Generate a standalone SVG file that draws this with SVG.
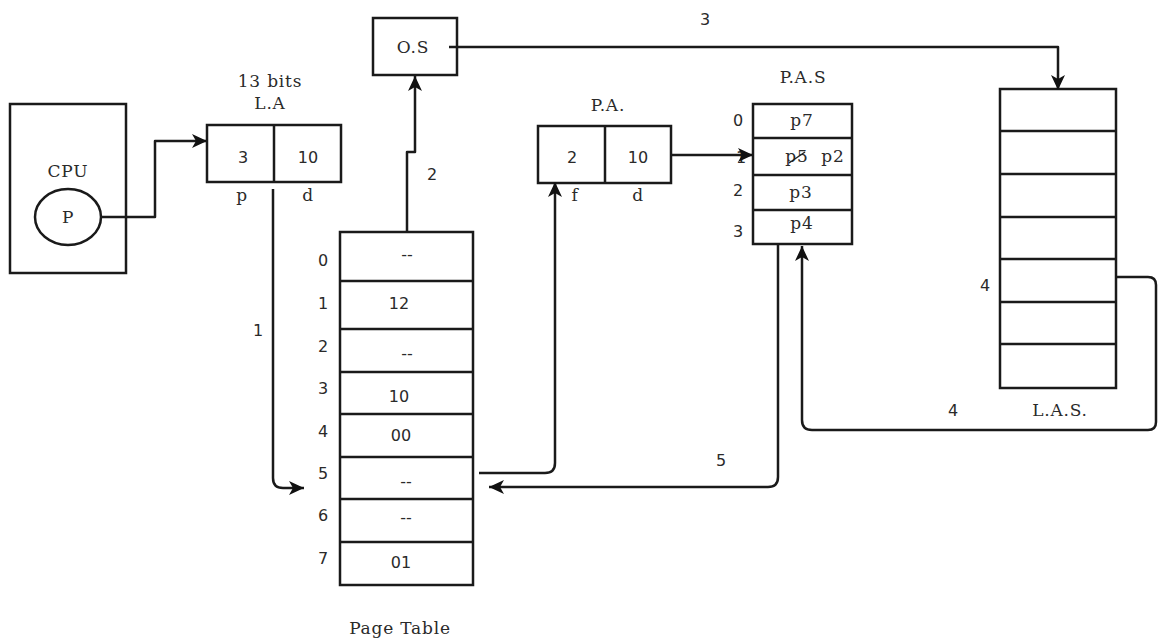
<svg xmlns="http://www.w3.org/2000/svg" width="1159" height="641" viewBox="0 0 1159 641">
<style>
.box{fill:#fff;stroke:#1a1a1a;stroke-width:2.5}
.ln{fill:none;stroke:#1a1a1a;stroke-width:2.5}
.cn{fill:none;stroke:#1a1a1a;stroke-width:2.5;stroke-linejoin:round}
.arr{marker-end:url(#ah)}
.sf{font-family:"DejaVu Serif","Liberation Serif",serif;font-size:17px;letter-spacing:0.8px;fill:#2a2a2a;text-anchor:middle}
.ss{font-family:"DejaVu Sans","Liberation Sans",sans-serif;font-size:16px;fill:#2a2a2a;text-anchor:middle}
</style>
<defs>
<marker id="ah" markerUnits="userSpaceOnUse" markerWidth="16" markerHeight="14" refX="15" refY="7" orient="auto">
<path d="M0,0 L15,7 L0,14 L4,7 z" fill="#111"/>
</marker>
</defs>
<rect width="1159" height="641" fill="#fff"/>

<g id="cpu">
<rect class="box" x="10" y="104" width="116" height="169"/>
<text class="sf" x="68" y="177">CPU</text>
<ellipse class="box" cx="68" cy="217" rx="33" ry="28"/>
<text class="sf" x="68" y="223">P</text>
</g>

<g id="la">
<text class="sf" x="270" y="87">13 bits</text>
<text class="sf" x="270" y="109">L.A</text>
<rect class="box" x="207" y="125" width="134" height="57"/>
<line class="ln" x1="274" y1="125" x2="274" y2="182"/>
<text class="ss" x="243" y="163">3</text>
<text class="ss" x="308" y="163">10</text>
<text class="sf" x="242" y="201">p</text>
<text class="sf" x="308" y="201">d</text>
</g>

<g id="os">
<rect class="box" x="373" y="18" width="84" height="57"/>
<text class="sf" x="413" y="53">O.S</text>
</g>

<g id="pagetable">
<rect class="box" x="340" y="232" width="133" height="353"/>
<line class="ln" x1="340" y1="281" x2="473" y2="281"/>
<line class="ln" x1="340" y1="329" x2="473" y2="329"/>
<line class="ln" x1="340" y1="372" x2="473" y2="372"/>
<line class="ln" x1="340" y1="414" x2="473" y2="414"/>
<line class="ln" x1="340" y1="457" x2="473" y2="457"/>
<line class="ln" x1="340" y1="499" x2="473" y2="499"/>
<line class="ln" x1="340" y1="542" x2="473" y2="542"/>
<text class="ss" x="323" y="266">0</text>
<text class="ss" x="323" y="309">1</text>
<text class="ss" x="323" y="352">2</text>
<text class="ss" x="323" y="394">3</text>
<text class="ss" x="323" y="437">4</text>
<text class="ss" x="323" y="479">5</text>
<text class="ss" x="323" y="521">6</text>
<text class="ss" x="323" y="564">7</text>
<text class="ss" x="407" y="260">--</text>
<text class="ss" x="399" y="309">12</text>
<text class="ss" x="407" y="359">--</text>
<text class="ss" x="399" y="402">10</text>
<text class="ss" x="401" y="441">00</text>
<text class="ss" x="406" y="487">--</text>
<text class="ss" x="406" y="523">--</text>
<text class="ss" x="401" y="568">01</text>
<text class="sf" x="400" y="634">Page Table</text>
</g>

<g id="pa">
<text class="sf" x="608" y="111">P.A.</text>
<rect class="box" x="538" y="126" width="133" height="57"/>
<line class="ln" x1="605" y1="126" x2="605" y2="183"/>
<text class="ss" x="572" y="163">2</text>
<text class="ss" x="638" y="163">10</text>
<text class="sf" x="575" y="201">f</text>
<text class="sf" x="638" y="201">d</text>
</g>

<g id="pas">
<text class="sf" x="803" y="83">P.A.S</text>
<rect class="box" x="753" y="104" width="99" height="140"/>
<line class="ln" x1="753" y1="138" x2="852" y2="138"/>
<line class="ln" x1="753" y1="175" x2="852" y2="175"/>
<line class="ln" x1="753" y1="210" x2="852" y2="210"/>
<text class="ss" x="738" y="126">0</text>
<text class="ss" x="741" y="163">1</text>
<text class="ss" x="738" y="196">2</text>
<text class="ss" x="738" y="237">3</text>
<text class="sf" x="802" y="126">p7</text>
<text class="sf" x="797" y="162">p5</text>
<line x1="789" y1="163" x2="805" y2="152" stroke="#222" stroke-width="1.5"/>
<text class="sf" x="833" y="162">p2</text>
<text class="sf" x="801" y="198">p3</text>
<text class="sf" x="802" y="229">p4</text>
</g>

<g id="las">
<rect class="box" x="1000" y="89" width="116" height="299"/>
<line class="ln" x1="1000" y1="131" x2="1116" y2="131"/>
<line class="ln" x1="1000" y1="174" x2="1116" y2="174"/>
<line class="ln" x1="1000" y1="217" x2="1116" y2="217"/>
<line class="ln" x1="1000" y1="259" x2="1116" y2="259"/>
<line class="ln" x1="1000" y1="302" x2="1116" y2="302"/>
<line class="ln" x1="1000" y1="344" x2="1116" y2="344"/>
<text class="sf" x="1060" y="416">L.A.S.</text>
</g>

<g id="connectors">
<path class="cn arr" d="M102,217 H155 V141 H207"/>
<path class="cn arr" d="M273,189 V478 Q273,488 283,488 H304"/>
<path class="cn arr" d="M407,231 V152 H415 V76"/>
<path class="cn arr" d="M449,47 H1058 V90"/>
<path class="cn arr" d="M479,473 H545 Q555,473 555,463 V182"/>
<path class="cn arr" d="M671,155 H753"/>
<path class="cn arr" d="M1116,277 H1148 Q1156,277 1156,285 V422 Q1156,430 1148,430 H812 Q802,430 802,420 V246"/>
<path class="cn arr" d="M778,244 V477 Q778,487 768,487 H489"/>
<text class="ss" x="258" y="336">1</text>
<text class="ss" x="432" y="180">2</text>
<text class="ss" x="705" y="25">3</text>
<text class="ss" x="953" y="416">4</text>
<text class="ss" x="985" y="291">4</text>
<text class="ss" x="721" y="466">5</text>
</g>
</svg>
